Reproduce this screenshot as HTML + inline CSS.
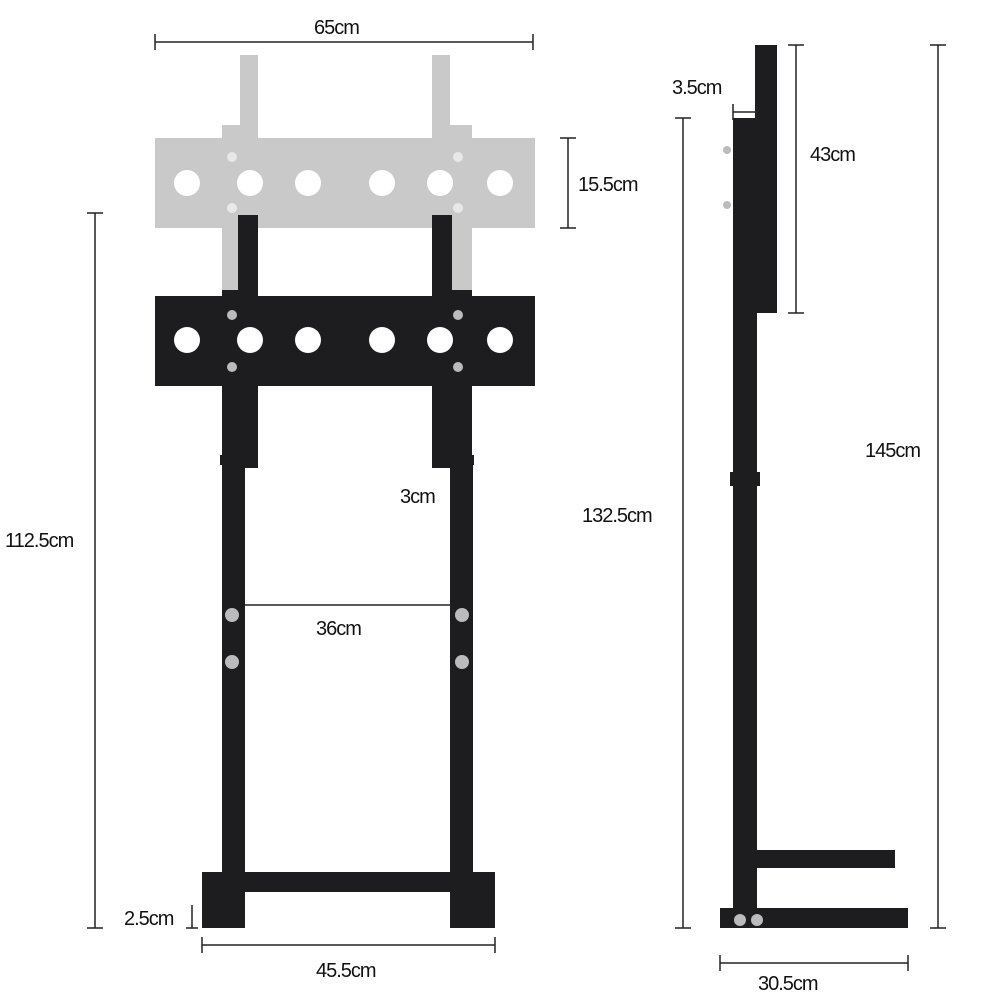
<!DOCTYPE html>
<html><head><meta charset="utf-8"><style>
html,body{margin:0;padding:0;background:#fff;}
svg{display:block;}
text{font-family:"Liberation Sans",sans-serif;font-size:20px;fill:#111;letter-spacing:-1px;}
</style></head><body>
<svg width="1000" height="1000" viewBox="0 0 1000 1000" xmlns="http://www.w3.org/2000/svg">
<!-- gray raised bracket -->
<g fill="#c9c9c9">
<rect x="222" y="125" width="24" height="170"/>
<rect x="448" y="125" width="24" height="170"/>
<rect x="155" y="138" width="380" height="90"/>
<rect x="240" y="55" width="18" height="180"/>
<rect x="432" y="55" width="18" height="180"/>
</g>
<g fill="#fff">
<circle cx="187" cy="183" r="13"/><circle cx="250" cy="183" r="13"/><circle cx="308" cy="183" r="13"/>
<circle cx="382" cy="183" r="13"/><circle cx="440" cy="183" r="13"/><circle cx="500" cy="183" r="13"/>
</g>
<g fill="#e8e8e8"><circle cx="232" cy="157" r="5"/><circle cx="232" cy="208" r="5"/><circle cx="458" cy="157" r="5"/><circle cx="458" cy="208" r="5"/></g>
<!-- poles -->
<g fill="#1d1d1f">
<rect x="222" y="290" width="24" height="165"/>
<rect x="448" y="290" width="24" height="165"/>
<rect x="220" y="455" width="28" height="10"/>
<rect x="446" y="455" width="28" height="10"/>
<rect x="222" y="465" width="23" height="420"/>
<rect x="450" y="465" width="23" height="420"/>
<rect x="245" y="872" width="205" height="20"/>
<rect x="202" y="872" width="43" height="56"/>
<rect x="450" y="872" width="45" height="56"/>
<rect x="155" y="296" width="380" height="90"/>
<rect x="238" y="215" width="20" height="253"/>
<rect x="432" y="215" width="20" height="253"/>
</g>
<g fill="#fff">
<circle cx="187" cy="340" r="13"/><circle cx="250" cy="340" r="13"/><circle cx="308" cy="340" r="13"/>
<circle cx="382" cy="340" r="13"/><circle cx="440" cy="340" r="13"/><circle cx="500" cy="340" r="13"/>
</g>
<g fill="#bbb"><circle cx="232" cy="315" r="5"/><circle cx="232" cy="367" r="5"/><circle cx="458" cy="315" r="5"/><circle cx="458" cy="367" r="5"/>
<circle cx="232" cy="615" r="7"/><circle cx="232" cy="662" r="7"/><circle cx="462" cy="615" r="7"/><circle cx="462" cy="662" r="7"/></g>
<!-- side view -->
<g fill="#1d1d1f">
<rect x="755" y="45" width="22" height="268"/>
<rect x="745" y="130" width="14" height="100"/>
<rect x="733" y="118" width="24" height="810"/>
<rect x="730" y="472" width="30" height="14"/>
<rect x="757" y="850" width="138" height="18"/>
<rect x="720" y="908" width="188" height="20"/>
</g>
<g fill="#bbb"><circle cx="740" cy="920" r="6"/><circle cx="757" cy="920" r="6"/><circle cx="727" cy="150" r="4"/><circle cx="727" cy="205" r="4"/></g>
<!-- dimension lines -->
<g stroke="#222" stroke-width="1.5" fill="none">
<path d="M155 42H533M155 34V50M533 34V50"/>
<path d="M568 138V228M560 138H576M560 228H576"/>
<path d="M95 213V928M87 213H103M87 928H103"/>
<path d="M245 605H450"/>
<path d="M192 905V928M186 928H198"/>
<path d="M202 945H495M202 937V953M495 937V953"/>
<path d="M733 112H757M733 104V120M757 104V120"/>
<path d="M796 45V313M788 45H804M788 313H804"/>
<path d="M938 45V928M930 45H946M930 928H946"/>
<path d="M683 118V928M675 118H691M675 928H691"/>
<path d="M720 963H908M720 955V971M908 955V971"/>
</g>
<text x="314" y="34">65cm</text>
<text x="578" y="191">15.5cm</text>
<text x="5" y="547">112.5cm</text>
<text x="316" y="635">36cm</text>
<text x="400" y="503">3cm</text>
<text x="124" y="925">2.5cm</text>
<text x="316" y="977">45.5cm</text>
<text x="672" y="94">3.5cm</text>
<text x="810" y="161">43cm</text>
<text x="865" y="457">145cm</text>
<text x="582" y="522">132.5cm</text>
<text x="758" y="990">30.5cm</text>
</svg>
</body></html>
